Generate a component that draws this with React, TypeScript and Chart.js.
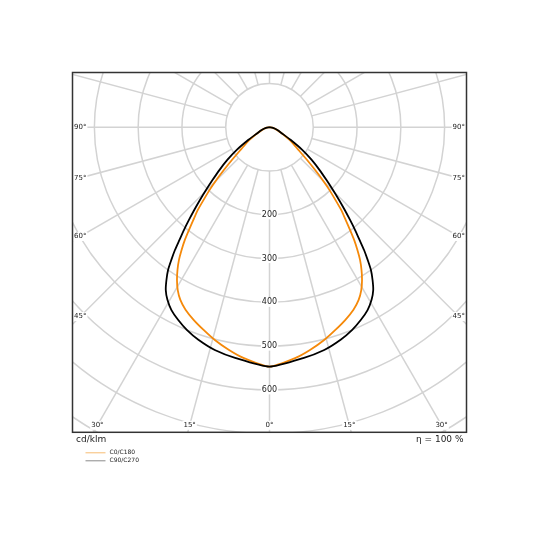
import { useEffect, useRef } from "react";
import { Chart, registerables } from "chart.js";
Chart.register(...registerables);

// angle from nadir (deg) and luminous intensity (cd/klm)
const c0Angles = [0, 6.6, 10.4, 14.4, 18, 21.5, 24.7, 27.3, 29.4, 31.2, 32.8, 34.3, 35.6, 36.9, 38.1, 39.4, 40.9, 42.2, 43.7, 45.2, 46.8, 48.9, 51.9, 57.8, 64, 70.2, 80, 90];
const c0Values = [547, 530, 517, 502, 487, 473, 459, 444, 427, 408, 388, 367, 345, 322, 298, 274, 250, 224, 198, 171, 143, 114, 84, 55, 30, 18, 8, 0];
const c90Angles = [0, 8.3, 13.8, 18.5, 22.2, 25.4, 28.2, 30.6, 32.5, 34, 35.4, 36.5, 37.6, 38.6, 39.8, 41, 42.3, 43.7, 45.3, 47.2, 49.5, 52.2, 55.3, 59.1, 64, 70.9, 80, 90];
const c90Values = [547, 533, 524, 512, 500, 487, 474, 458, 441, 421, 400, 377, 354, 330, 305, 280, 255, 230, 204, 177, 150, 122, 91, 56, 31, 19, 8, 0];

const ringValues = [100, 200, 300, 400, 500, 600, 700, 800, 900];
const ringLabels = [200, 300, 400, 500, 600];
const spokeAngles = [0, 15, 30, 45, 60, 75, 90, 105, 120, 135, 150, 165, 180, 195, 210, 225, 240, 255, 270, 285, 300, 315, 330, 345];
const sideAngleLabels = [90, 75, 60, 45];
const bottomAngleLabels = [-30, -15, 0, 15, 30];

const ORANGE = "#f5890a";
const FONT = "DejaVu Sans";

// mirrored curve: C180 / C270 on the left, C0 / C90 on the right
const toPoints = (angles: number[], values: number[]) => {
  const pts: { x: number; y: number }[] = [];
  for (let i = angles.length - 1; i >= 0; i--) {
    const a = (angles[i] * Math.PI) / 180;
    pts.push({ x: -values[i] * Math.sin(a), y: -values[i] * Math.cos(a) });
  }
  for (let i = 1; i < angles.length; i++) {
    const a = (angles[i] * Math.PI) / 180;
    pts.push({ x: values[i] * Math.sin(a), y: -values[i] * Math.cos(a) });
  }
  return pts;
};

const labelBox = (ctx: CanvasRenderingContext2D, text: string, x: number, y: number) => {
  const w = ctx.measureText(text).width;
  ctx.fillStyle = "#fff";
  ctx.fillRect(x - w / 2 - 1, y - 4.5, w + 2, 9);
  ctx.fillStyle = "#222";
  ctx.fillText(text, x, y);
};

const polarGrid = {
  id: "polarGrid",
  beforeDatasetsDraw(chart: any) {
    const { ctx, chartArea: ca, scales } = chart;
    const cx = scales.x.getPixelForValue(0);
    const cy = scales.y.getPixelForValue(0);
    const k = (scales.x.getPixelForValue(100) - cx) / 100;
    ctx.save();
    ctx.beginPath();
    ctx.rect(ca.left, ca.top, ca.right - ca.left, ca.bottom - ca.top);
    ctx.clip();
    ctx.strokeStyle = "#d3d3d3";
    ctx.lineWidth = 1.5;
    ringValues.forEach((r) => {
      ctx.beginPath();
      ctx.arc(cx, cy, r * k, 0, Math.PI * 2);
      ctx.stroke();
    });
    spokeAngles.forEach((deg) => {
      const a = (deg * Math.PI) / 180;
      ctx.beginPath();
      ctx.moveTo(cx + 100 * k * Math.sin(a), cy + 100 * k * Math.cos(a));
      ctx.lineTo(cx + 1200 * k * Math.sin(a), cy + 1200 * k * Math.cos(a));
      ctx.stroke();
    });
    ctx.font = `8px "${FONT}"`;
    ctx.textAlign = "center";
    ctx.textBaseline = "middle";
    ringLabels.forEach((r) => labelBox(ctx, String(r), cx, cy + r * k));

    ctx.font = `7px "${FONT}"`;
    sideAngleLabels.forEach((deg) => {
      const t = `${deg}°`;
      const w = ctx.measureText(t).width;
      const lx = ca.left + 1.5 + w / 2;
      const rx = ca.right - 1.5 - w / 2;
      const tan = Math.tan(((90 - deg) * Math.PI) / 180);
      labelBox(ctx, t, lx, cy + (cx - lx) * tan);
      labelBox(ctx, t, rx, cy + (rx - cx) * tan);
    });
    const by = ca.bottom - 7;
    bottomAngleLabels.forEach((deg) => {
      const a = (deg * Math.PI) / 180;
      labelBox(ctx, `${Math.abs(deg)}°`, cx + (by - cy) * Math.tan(a), by);
    });
    ctx.restore();
  },
  afterDraw(chart: any) {
    const { ctx, chartArea: ca } = chart;
    ctx.save();
    ctx.strokeStyle = "#333";
    ctx.lineWidth = 1.5;
    ctx.strokeRect(ca.left, ca.top, ca.right - ca.left, ca.bottom - ca.top);
    ctx.fillStyle = "#222";
    ctx.textBaseline = "middle";
    ctx.font = `9px "${FONT}"`;
    ctx.textAlign = "left";
    ctx.fillText("cd/klm", ca.left + 3.5, ca.bottom + 7.5);
    ctx.textAlign = "right";
    ctx.fillText("η = 100 %", ca.right - 3, ca.bottom + 7.5);
    ctx.font = `6px "${FONT}"`;
    ctx.textAlign = "left";
    const items = [
      { label: "C0/C180", color: "#f7bd73" },
      { label: "C90/C270", color: "#8a8a8a" },
    ];
    items.forEach((it, i) => {
      const y = ca.bottom + 20.5 + i * 8;
      ctx.strokeStyle = it.color;
      ctx.lineWidth = 1;
      ctx.beginPath();
      ctx.moveTo(ca.left + 13, y);
      ctx.lineTo(ca.left + 33, y);
      ctx.stroke();
      ctx.fillStyle = "#222";
      ctx.fillText(it.label, ca.left + 37, y);
    });
    ctx.restore();
  },
};

const PolarDiagram = () => {
  const canvasRef = useRef<HTMLCanvasElement>(null);

  useEffect(() => {
    const canvas = canvasRef.current;
    if (!canvas) return;
    const chart = new Chart(canvas, {
      type: "scatter",
      data: {
        datasets: [
          {
            label: "C0/C180",
            data: toPoints(c0Angles, c0Values),
            showLine: true,
            borderColor: ORANGE,
            borderWidth: 1.8,
            pointRadius: 0,
            tension: 0.2,
            order: 1,
          },
          {
            label: "C90/C270",
            data: toPoints(c90Angles, c90Values),
            showLine: true,
            borderColor: "#000",
            borderWidth: 1.8,
            pointRadius: 0,
            tension: 0.2,
            order: 0,
          },
        ],
      },
      options: {
        responsive: false,
        animation: false,
        events: [],
        layout: { padding: { left: 72.5, top: 72.5, right: 73.5, bottom: 107.7 } },
        scales: {
          x: { type: "linear", min: -450, max: 450, display: false },
          y: { type: "linear", min: -697, max: 125, display: false },
        },
        plugins: { legend: { display: false }, tooltip: { enabled: false } },
      },
      plugins: [polarGrid],
    });
    return () => chart.destroy();
  }, []);

  return <canvas ref={canvasRef} width={540} height={540} />;
};

export default function App() {
  return (
    <div style={{ position: "absolute", left: 0, top: 0, width: 540, height: 540, background: "#fff" }}>
      <PolarDiagram />
    </div>
  );
}
